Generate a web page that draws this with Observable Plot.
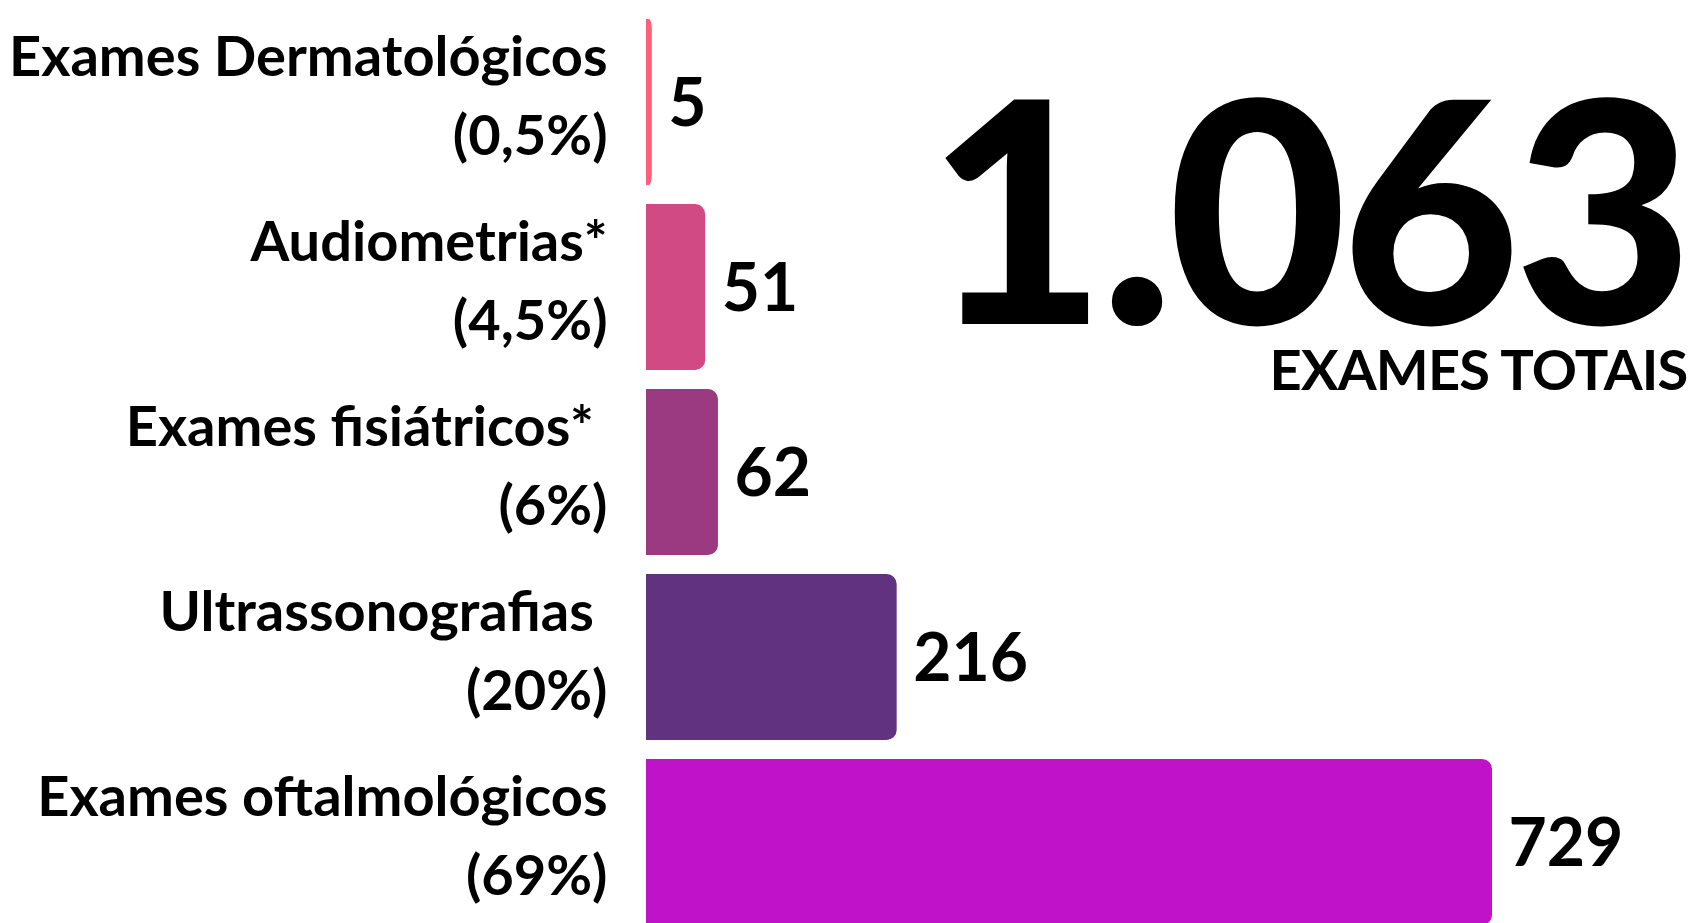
<!DOCTYPE html>
<html>
<head>
<meta charset="utf-8">
<script src="https://cdn.jsdelivr.net/npm/d3@7"></script>
<script src="https://cdn.jsdelivr.net/npm/@observablehq/plot@0.6"></script>
<style>
  html, body { margin: 0; padding: 0; background: #ffffff; overflow: hidden; }
  #chart svg { display: block; }
</style>
</head>
<body>
<div id="chart"></div>
<script>
// ---- data ----
const categories = [
  "Exames Dermatológicos",
  "Audiometrias*",
  "Exames fisiátricos*\u00a0",
  "Ultrassonografias\u00a0",
  "Exames oftalmológicos"
];
const values = [5, 51, 62, 216, 729];
const shares = ["(0,5%)", "(4,5%)", "(6%)", "(20%)", "(69%)"];
const colors = ["#FF5F79", "#D24A83", "#9B3A81", "#61327F", "#C013C9"];
const totalCaption = "EXAMES TOTAIS";

const data = categories.map((c, i) => ({category: c, value: values[i], share: shares[i]}));
const total = d3.sum(values);
const ptBR = d3.formatLocale({decimal: ",", thousands: ".", grouping: [3], currency: ["R$", ""]});
const fmtTotal = ptBR.format(",");

const font = "Lato, 'Noto Sans', sans-serif";

const chart = Plot.plot({
  width: 1690,
  height: 923,
  marginLeft: 646,
  marginRight: 198,
  marginTop: 18,
  marginBottom: -3,
  style: {fontFamily: font, background: "#ffffff", color: "#000"},
  x: {domain: [0, d3.max(values)], axis: null},
  y: {domain: categories, paddingInner: 0.105, paddingOuter: 0, axis: null},
  color: {domain: categories, range: colors},
  marks: [
    Plot.barX(data, {x: "value", y: "category", fill: "category", rx: 10}),
    Plot.barX(data, {x1: 0, x2: d => d.value / 2, y: "category", fill: "category"}),
    Plot.text(data, {
      x: "value", y: "category", text: d => String(d.value),
      textAnchor: "start", dx: 16, dy: 2, fontSize: 66, fontWeight: 700, fill: "#000"
    }),
    Plot.text(data, {
      x: 0, y: "category", text: d => `${d.category}\n${d.share}`,
      textAnchor: "end", dx: -39, dy: -12, lineHeight: 1.4,
      fontSize: 56, fontWeight: 700, fill: "#000"
    }),
    Plot.text([total], {
      frameAnchor: "top-right", text: d => fmtTotal(d), lineAnchor: "top",
      textAnchor: "end", dx: 195, dy: 86, fontSize: 309, fontWeight: 900, fill: "#000"
    }),
    Plot.text([totalCaption], {
      frameAnchor: "top-right", text: d => d, lineAnchor: "top",
      textAnchor: "end", dx: 195, dy: 332, fontSize: 56, fontWeight: 700, fill: "#000"
    })
  ]
});

d3.select(chart).selectAll("text").each(function() {
  const t = this.textContent;
  if (t === fmtTotal(total)) d3.select(this).attr("letter-spacing", "-6px");
  if (t === totalCaption) d3.select(this).attr("letter-spacing", "-0.8px");
});

document.getElementById("chart").appendChild(chart);
</script>
</body>
</html>
